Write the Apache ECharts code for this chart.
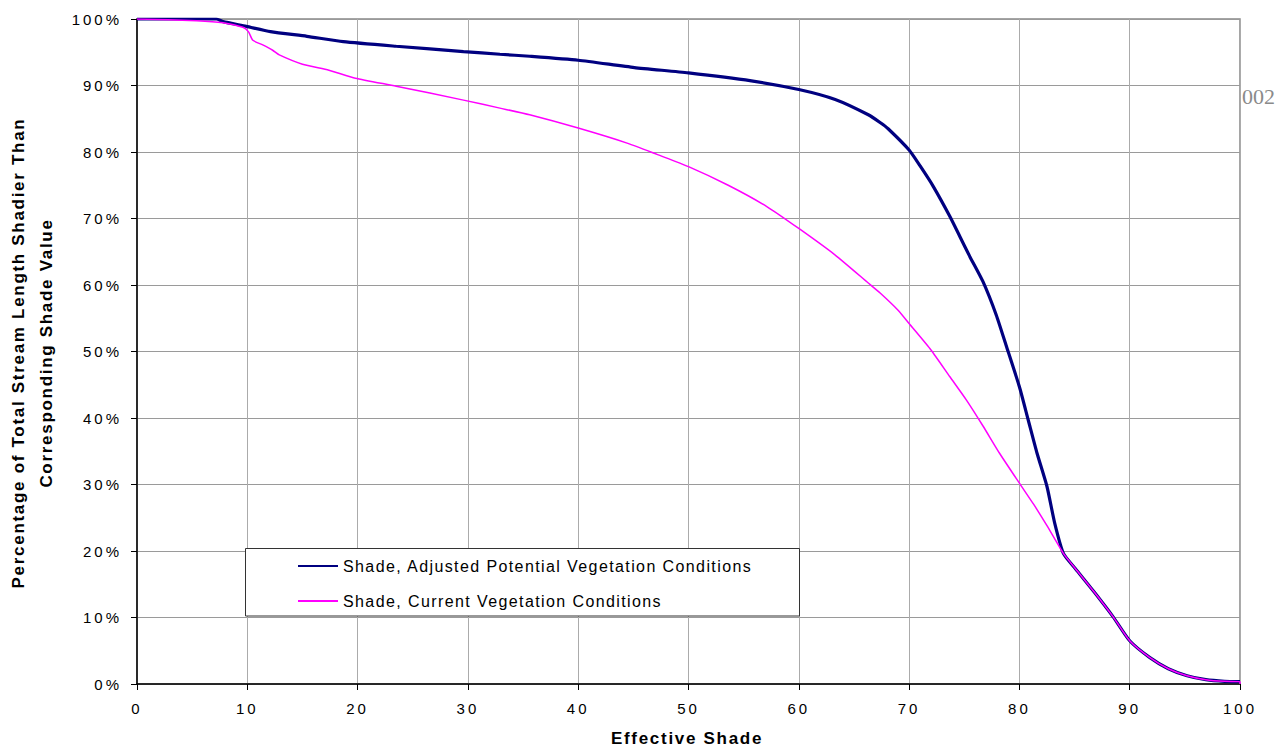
<!DOCTYPE html>
<html>
<head>
<meta charset="utf-8">
<title>Effective Shade Distribution</title>
<script src="https://cdn.jsdelivr.net/npm/echarts@6/dist/echarts.min.js"></script>
<style>
  html, body { margin: 0; padding: 0; background: #fff; }
  #chart { width: 1287px; height: 751px; }
  /* wide tracking, as in the printed report */
  #chart svg text[style*="15px"] { letter-spacing: 3px; }
  #chart svg text[style*="16px"] { letter-spacing: 1.4px; }
  #chart svg text[style*="17px"] { letter-spacing: 1.7px; }
</style>
</head>
<body>
<div id="chart"></div>
<script>
// Effective shade (x) vs. cumulative share of stream length shadier than it (y, %)
const shadeAdjusted = [0, 5, 7.2, 7.8, 9.9, 12.1, 15.4, 18.7, 23.5, 29.6, 32.9, 35.6, 40, 45.1, 50, 55.7, 60, 63.3, 66.3, 67.4, 68.1, 70, 71, 72.2, 73.7, 74.6, 75.5, 76.7, 77.9, 78.8, 80, 80.8, 81.6, 82.5, 83.2, 84, 85.1, 86.8, 88.5, 90, 91.8, 93.5, 95.2, 96.9, 98.6, 100];
const pctAdjusted   = [100, 100, 100, 99.6, 98.9, 98.1, 97.4, 96.6, 95.9, 95.1, 94.7, 94.4, 93.8, 92.7, 91.9, 90.7, 89.4, 87.9, 85.6, 84.4, 83.5, 80.3, 77.9, 74.8, 70.3, 67.3, 64.3, 60.5, 55.5, 50.9, 44.7, 39.7, 34.7, 29.7, 24.2, 19.6, 17.3, 13.8, 10.1, 6.5, 4.0, 2.3, 1.25, 0.65, 0.4, 0.35];

const shadeCurrent = [0, 5.4, 7.8, 9.6, 10.1, 10.5, 11.4, 12.3, 12.9, 15, 17.4, 19.8, 23.5, 29.6, 32.9, 35.6, 40, 44.5, 47.2, 50, 53.6, 57.1, 60, 63.3, 66.3, 67.4, 69, 70, 72, 73.7, 75.2, 76.7, 78.2, 80, 81.3, 82.5, 84, 85.1, 86.8, 88.5, 90, 91.8, 93.5, 95.2, 96.9, 98.6, 100, 100];
const pctCurrent   = [100, 99.75, 99.45, 98.75, 98.1, 96.8, 96.1, 95.3, 94.6, 93.2, 92.3, 91.1, 89.9, 87.8, 86.6, 85.6, 83.6, 81.3, 79.6, 77.8, 75.0, 71.8, 68.5, 64.5, 60.3, 58.75, 56.2, 54.2, 50.2, 46.2, 42.7, 38.8, 34.7, 30.2, 27.0, 23.8, 19.6, 17.3, 13.8, 10.1, 6.5, 4.0, 2.3, 1.25, 0.65, 0.4, 0.35, 0];

const seriesNames = ['Shade, Adjusted Potential Vegetation Conditions', 'Shade, Current Vegetation Conditions'];
const xTitle = 'Effective Shade';
const yTitleLines = ['Percentage of Total Stream Length Shadier Than', 'Corresponding Shade Value'];
const cornerNote = '002';

const pairs = (xs, ys) => xs.map((x, i) => [x, ys[i]]);

const SANS = "'Liberation Sans', Arial, sans-serif";

const chart = echarts.init(document.getElementById('chart'), null, { renderer: 'svg' });

chart.setOption({
  animation: false,
  backgroundColor: '#ffffff',
  grid: {
    left: 137, top: 19, right: 47, bottom: 67,
    show: true, borderColor: '#888888', borderWidth: 1.5, backgroundColor: 'transparent'
  },
  xAxis: {
    type: 'value', min: 0, max: 100, interval: 10,
    axisLine: { show: true, onZero: false, lineStyle: { color: '#000', width: 1.5 } },
    axisTick: { show: true, length: 6, lineStyle: { color: '#000' } },
    axisLabel: { fontFamily: SANS, fontSize: 15, color: '#000', margin: 17 },
    splitLine: { show: true, lineStyle: { color: '#ababab', width: 1 } }
  },
  yAxis: {
    type: 'value', min: 0, max: 100, interval: 10,
    axisLine: { show: true, onZero: false, lineStyle: { color: '#000', width: 1.5 } },
    axisTick: { show: true, length: 6, lineStyle: { color: '#000' } },
    axisLabel: { fontFamily: SANS, fontSize: 15, color: '#000', margin: 15, formatter: '{value}%' },
    splitLine: { show: true, lineStyle: { color: '#9a9a9a', width: 1 } }
  },
  legend: {
    orient: 'vertical', left: 297, top: 558, padding: 0,
    itemWidth: 40, itemHeight: 14, itemGap: 19,
    itemStyle: { opacity: 0 },
    textStyle: { fontFamily: SANS, fontSize: 16, color: '#000' },
    data: seriesNames, z: 10
  },
  graphic: [
    { type: 'rect', z: 5, shape: { x: 245.5, y: 548.5, width: 554, height: 67.5 },
      style: { fill: '#ffffff', stroke: '#333333', lineWidth: 1 } },
    { type: 'text', x: 687, y: 738,
      style: { text: xTitle, fontFamily: SANS, fontSize: 17, fontWeight: 'bold', fill: '#000', align: 'center', verticalAlign: 'middle' } },
    { type: 'text', x: 18.5, y: 353, rotation: Math.PI / 2,
      style: { text: yTitleLines[0], fontFamily: SANS, fontSize: 17, fontWeight: 'bold', fill: '#000', align: 'center', verticalAlign: 'middle' } },
    { type: 'text', x: 46.5, y: 353, rotation: Math.PI / 2,
      style: { text: yTitleLines[1], fontFamily: SANS, fontSize: 17, fontWeight: 'bold', fill: '#000', align: 'center', verticalAlign: 'middle' } },
    { type: 'text', x: 1242, y: 96,
      style: { text: cornerNote, fontFamily: "'Liberation Serif', 'Times New Roman', serif", fontSize: 22, fill: '#8a8a8a', align: 'left', verticalAlign: 'middle' } }
  ],
  series: [
    {
      name: seriesNames[0], type: 'line', data: pairs(shadeAdjusted, pctAdjusted),
      showSymbol: false, symbol: 'none', smooth: 0.2,
      lineStyle: { color: '#000080', width: 3.2 }, itemStyle: { color: '#000080' }, z: 2
    },
    {
      name: seriesNames[1], type: 'line', data: pairs(shadeCurrent, pctCurrent),
      showSymbol: false, symbol: 'none', smooth: 0.2,
      lineStyle: { color: '#ff00ff', width: 1.5 }, itemStyle: { color: '#ff00ff' }, z: 3
    }
  ]
});
</script>
</body>
</html>
